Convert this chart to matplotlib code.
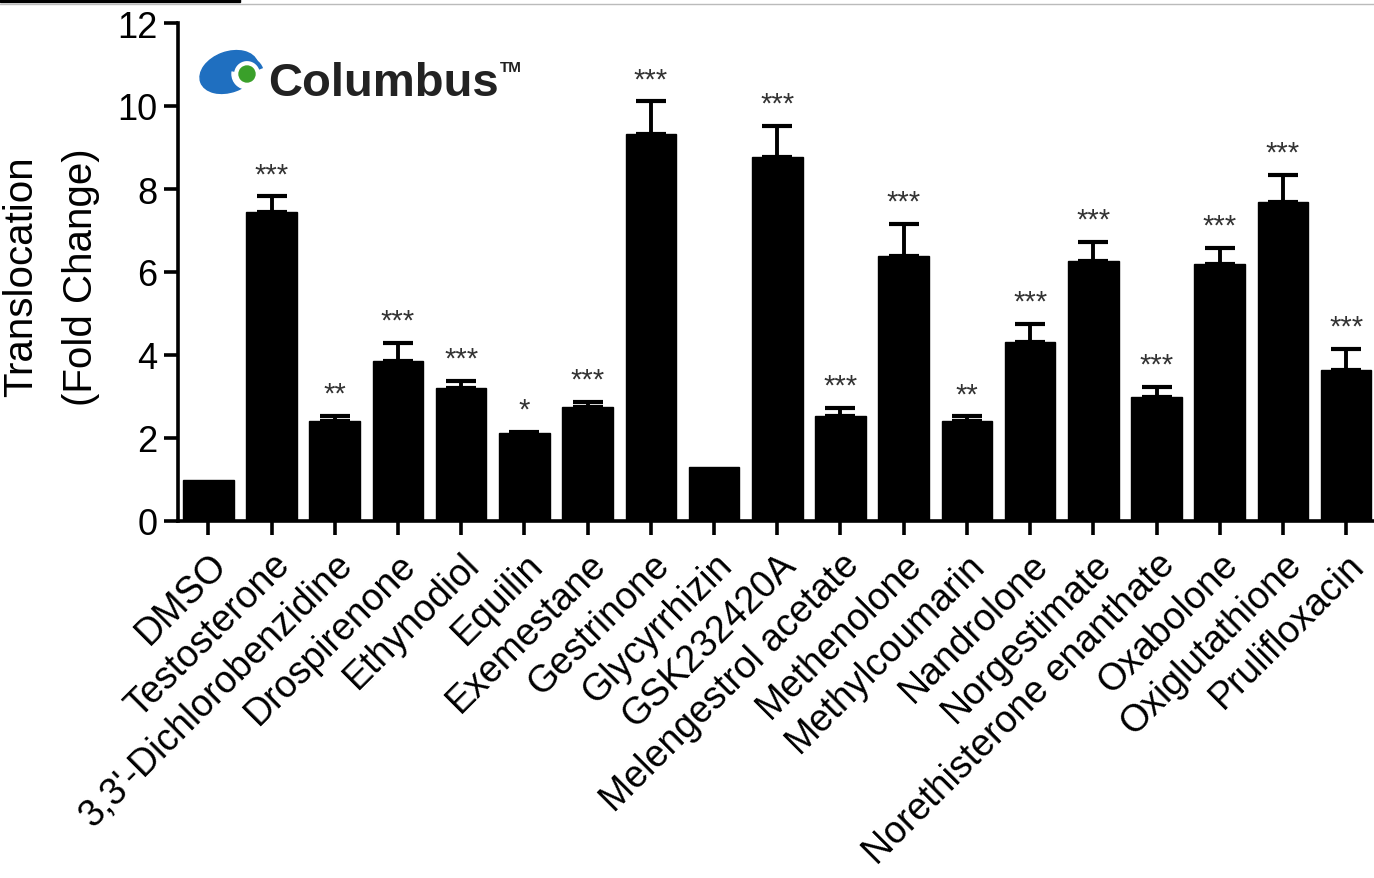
import matplotlib
matplotlib.use("Agg")
import matplotlib.pyplot as plt
from matplotlib.patches import Ellipse, Circle, Rectangle, Arc
import numpy as np

plt.rcParams['font.family'] = ['Liberation Sans', 'DejaVu Sans']

compounds = ["DMSO", "Testosterone", "3,3'-Dichlorobenzidine", "Drospirenone",
             "Ethynodiol", "Equilin", "Exemestane", "Gestrinone", "Glycyrrhizin",
             "GSK232420A", "Melengestrol acetate", "Methenolone", "Methylcoumarin",
             "Nandrolone", "Norgestimate", "Norethisterone enanthate", "Oxabolone",
             "Oxiglutathione", "Prulifloxacin"]
fold_change = [1.0, 7.45, 2.42, 3.85, 3.20, 2.11, 2.74, 9.33, 1.31,
               8.76, 2.54, 6.39, 2.42, 4.31, 6.27, 3.00, 6.20, 7.69, 3.65]
sem = [0.0, 0.37, 0.12, 0.45, 0.17, 0.04, 0.13, 0.78, 0.0,
       0.76, 0.18, 0.77, 0.10, 0.44, 0.45, 0.24, 0.37, 0.65, 0.50]
significance = ["", "***", "**", "***", "***", "*", "***", "***", "",
                "***", "***", "***", "**", "***", "***", "***", "***", "***", "***"]
y_ticks = [0, 2, 4, 6, 8, 10, 12]

W, H = 1374, 879
fig = plt.figure(figsize=(W / 100, H / 100), dpi=100)
ax = fig.add_axes([178 / W, 1 - 522 / H, 1 - 178 / W, (522 - 24) / H])

x = np.arange(len(compounds))
ax.bar(x, fold_change, width=0.8, color='black', edgecolor='black', linewidth=1)
err_idx = [i for i, s in enumerate(sem) if s > 0]
ax.errorbar(x[err_idx], [fold_change[i] for i in err_idx],
            yerr=[[0] * len(err_idx), [sem[i] for i in err_idx]],
            fmt='none', ecolor='black', elinewidth=2.8, capsize=11, capthick=3)

for i, s in enumerate(significance):
    if s:
        ax.annotate(s, (x[i], fold_change[i] + sem[i]), xytext=(0, 6),
                    textcoords='offset points', ha='center', va='bottom',
                    fontsize=21, color='#333333')

ax.set_xlim(-0.48, 18.44)
ax.set_ylim(0, 12)
ax.set_yticks(y_ticks)
ax.set_yticklabels([str(t) for t in y_ticks], fontsize=26)
ax.set_xticks(x)
ax.set_xticklabels(compounds, rotation=45, ha='right', rotation_mode='anchor',
                   fontsize=27)
for side in ['top', 'right']:
    ax.spines[side].set_visible(False)
for side in ['left', 'bottom']:
    ax.spines[side].set_linewidth(2.6)
ax.tick_params(axis='both', width=2.6, length=10, direction='out', pad=5)
ax.tick_params(axis='x', pad=8)

fig.text(21 / W, 1 - 277 / H, "Translocation", rotation=90, ha='center',
         va='center', fontsize=29)
fig.text(81 / W, 1 - 277 / H, "(Fold Change)", rotation=90, ha='center',
         va='center', fontsize=29)

# Columbus logo
la = fig.add_axes([0, 0, 1, 1], zorder=5)
la.set_xlim(0, W)
la.set_ylim(H, 0)
la.axis('off')
la.add_patch(Ellipse((229, 73), 60, 40, angle=-20, color='#1f6fc0'))
la.add_patch(Circle((247, 75), 15, color='white'))
la.add_patch(Arc((247, 75), 30, 30, theta1=190, theta2=340, color='#1f6fc0', lw=3))
la.add_patch(Circle((247, 75), 8, color='#3aa02a'))
la.text(268, 96, "Columbus", fontsize=34, fontweight='bold', color='#222222',
        ha='left', va='baseline')
la.text(500, 72, "TM", fontsize=11, fontweight='bold', color='#222222',
        ha='left', va='baseline')

# cropped strip at top edge
la.add_patch(Rectangle((0, 0), 240, 3, color='black'))
la.plot([0, W], [4.5, 4.5], color='#bbbbbb', lw=1)

fig.savefig("out.png", dpi=100)
